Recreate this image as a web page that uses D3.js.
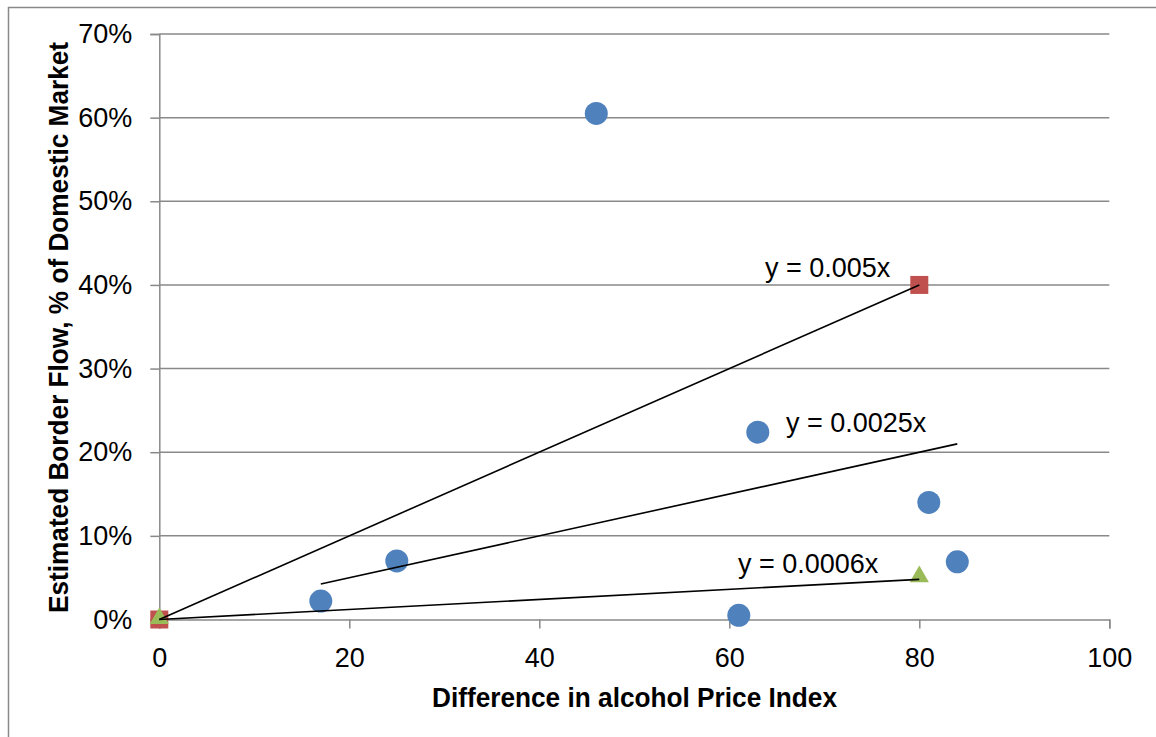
<!DOCTYPE html>
<html>
<head>
<meta charset="utf-8">
<script src="https://cdn.jsdelivr.net/npm/d3@7"></script>
<style>
  html, body { margin: 0; padding: 0; background: #fff; }
  svg { display: block; }
  text { font-family: "Liberation Sans", Arial, sans-serif; fill: #000; }
</style>
</head>
<body>
<svg id="chart" width="1156" height="737"></svg>
<script>
// ---- data ----
const blueX = [17, 25, 46, 61, 63, 81, 84];
const blueY = [0.022, 0.07, 0.605, 0.005, 0.224, 0.14, 0.069];
const redX = [0, 80];
const redY = [0, 0.40];
const greenX = [0, 80];
const greenY = [0, 0.05];
const trendSlopes = [0.005, 0.0025, 0.0006];
const trendFrom = [0, 17, 0];
const trendTo = [80, 84, 80];
const trendLabels = ["y = 0.005x", "y = 0.0025x", "y = 0.0006x"];
const xTicks = [0, 20, 40, 60, 80, 100];
const yTicks = [0, 0.1, 0.2, 0.3, 0.4, 0.5, 0.6, 0.7];
const xTitle = "Difference in alcohol Price Index";
const yTitle = "Estimated Border Flow, % of Domestic Market";

// ---- layout ----
const svg = d3.select("#chart");
const L = 159.3, R = 1109.3, T = 34, B = 619.5;
const x = d3.scaleLinear().domain([0, 100]).range([L, R]);
const y = d3.scaleLinear().domain([0, 0.7]).range([B, T]);
const grid = "#898989";
const fs = 27;

// outer chart border (cut by the image edge on right/bottom)
svg.append("rect").attr("x", 8.5).attr("y", 7.5).attr("width", 1160).attr("height", 740)
  .attr("fill", "none").attr("stroke", grid).attr("stroke-width", 1.5);

// gridlines
svg.append("g").selectAll("line").data(yTicks.filter(d => d > 0)).join("line")
  .attr("x1", L).attr("x2", R).attr("y1", d => y(d)).attr("y2", d => y(d))
  .attr("stroke", grid).attr("stroke-width", 1.5);

// y axis
const yAxis = d3.axisLeft(y).tickValues(yTicks).tickFormat(d3.format(".0%")).tickSize(9).tickPadding(18);
const gy = svg.append("g").attr("transform", `translate(${L},0)`).call(yAxis);
gy.attr("font-size", fs).attr("font-family", "Liberation Sans, Arial, sans-serif");
gy.select(".domain").attr("stroke", grid).attr("stroke-width", 1.5);
gy.selectAll(".tick line").attr("stroke", grid).attr("stroke-width", 1.5);
gy.selectAll(".tick text").attr("font-size", fs).attr("fill", "#000");

// x axis
const xAxis = d3.axisBottom(x).tickValues(xTicks).tickFormat(d3.format("d")).tickSize(9).tickPadding(19);
const gx = svg.append("g").attr("transform", `translate(0,${B})`).call(xAxis);
gx.attr("font-size", fs).attr("font-family", "Liberation Sans, Arial, sans-serif");
gx.select(".domain").attr("stroke", grid).attr("stroke-width", 1.5);
gx.selectAll(".tick line").attr("stroke", grid).attr("stroke-width", 1.5);
gx.selectAll(".tick text").attr("font-size", fs).attr("fill", "#000");

// axis titles
svg.append("text").attr("x", 634.5).attr("y", 707).attr("text-anchor", "middle")
  .attr("font-size", 27).attr("font-weight", "bold")
  .attr("textLength", 405).attr("lengthAdjust", "spacingAndGlyphs").text(xTitle);
svg.append("text").attr("transform", "translate(68,327.5) rotate(-90)").attr("text-anchor", "middle")
  .attr("font-size", 27).attr("font-weight", "bold")
  .attr("textLength", 571).attr("lengthAdjust", "spacingAndGlyphs").text(yTitle);

// markers
const blue = blueX.map((v, i) => ({ x: v, y: blueY[i] }));
const red = redX.map((v, i) => ({ x: v, y: redY[i] }));
const green = greenX.map((v, i) => ({ x: v, y: greenY[i] }));

svg.append("g").selectAll("circle").data(blue).join("circle")
  .attr("cx", d => x(d.x)).attr("cy", d => y(d.y)).attr("r", 11.5).attr("fill", "#4F81BD");
svg.append("g").selectAll("rect").data(red).join("rect")
  .attr("x", d => x(d.x) - 9).attr("y", d => y(d.y) - 9).attr("width", 18).attr("height", 18).attr("fill", "#C0504D");
svg.append("g").selectAll("path").data(green).join("path")
  .attr("transform", d => `translate(${x(d.x)},${y(d.y) - 1})`)
  .attr("d", d3.symbol(d3.symbolTriangle, 160)).attr("fill", "#9BBB59");

// trendlines
const trends = trendSlopes.map((s, i) => ({ s, a: trendFrom[i], b: trendTo[i], label: trendLabels[i] }));
svg.append("g").selectAll("line").data(trends).join("line")
  .attr("x1", d => x(d.a)).attr("y1", d => y(d.a * d.s))
  .attr("x2", d => x(d.b)).attr("y2", d => y(d.b * d.s))
  .attr("stroke", "#000").attr("stroke-width", 1.6);

// trendline labels
const labelPos = [[765, 277], [786, 432], [738, 573]];
svg.append("g").selectAll("text").data(trends).join("text")
  .attr("x", (d, i) => labelPos[i][0]).attr("y", (d, i) => labelPos[i][1])
  .attr("font-size", fs).text(d => d.label);
</script>
</body>
</html>
